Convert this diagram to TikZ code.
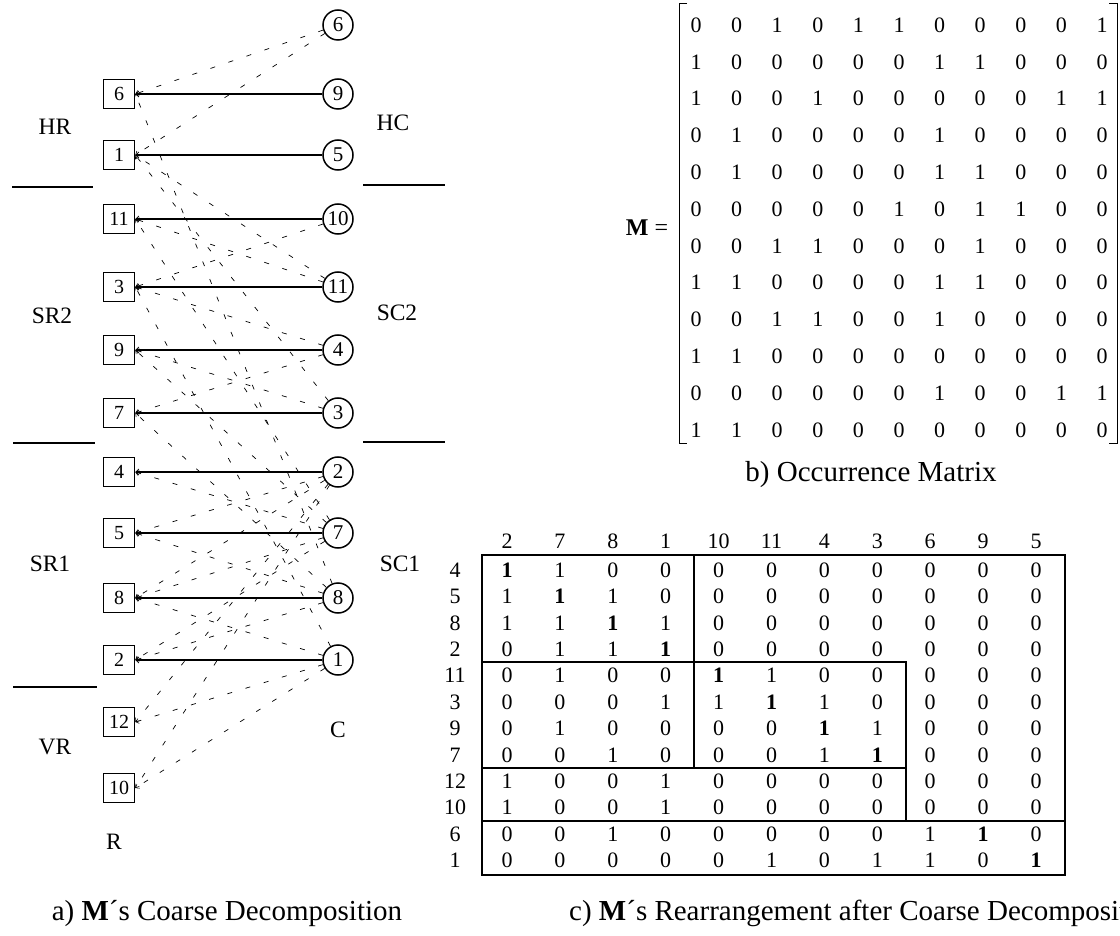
\documentclass[tikz,border=0pt]{standalone}
\usepackage{fontspec}
\setmainfont{Liberation Serif}
\usetikzlibrary{arrows.meta}

\tikzset{
  rowbox/.style={draw, line width=1.6pt, minimum width=31pt, minimum height=29pt,
    inner sep=0pt, font=\fontsize{20}{20}\selectfont},
  colnode/.style={draw, circle, line width=1.5pt, minimum size=30pt, inner sep=0pt,
    font=\fontsize{21}{21}\selectfont},
  matchline/.style={line width=1.8pt,
    -{Straight Barb[length=3pt,width=6pt,line width=0.8pt]}},
  occ/.style={line width=0.7pt, dash pattern=on 5pt off 14pt,
    -{Straight Barb[length=3pt,width=5pt,line width=0.6pt]}},
  lbl/.style={font=\fontsize{23.5}{28}\selectfont, inner sep=0pt},
  sepline/.style={line width=1.6pt},
  entry/.style={font=\fontsize{22}{22}\selectfont, inner sep=0pt},
  captext/.style={font=\fontsize{29}{34}\selectfont, inner sep=0pt},
  brk/.style={line width=1pt},
  blk/.style={line width=1.6pt},
}

\begin{document}
\begin{tikzpicture}[x=1pt,y=-1pt]
\useasboundingbox (0,0) rectangle (1120,936);

% ---------- a) bipartite graph: rows (boxes) and columns (circles)
\foreach \n/\y in {6/94,1/155,11/219,3/287,9/350,7/413,4/472,5/533,8/598,2/660,12/722,10/788}
  \node[rowbox] (r\n) at (119,\y) {\n};
\foreach \n/\y in {6/25,9/94,5/155,10/219,11/287,4/350,3/413,2/472,7/533,8/598,1/660}
  \node[colnode] (c\n) at (338,\y) {\n};

% matching edges
\foreach \r/\c in {6/9,1/5,11/10,3/11,9/4,7/3,4/2,5/7,8/8,2/1}
  \draw[matchline] (c\c) -- (r\r);
% remaining non-zero entries
\foreach \r/\c in {1/3,1/6,1/11,2/7,2/8,3/1,3/4,3/10,4/7,5/2,5/8,6/6,6/8,7/4,7/8,
                   8/1,8/2,8/7,9/3,9/7,10/1,10/2,11/7,11/11,12/1,12/2}
  \draw[occ] (c\c) -- (r\r.east);

% block labels
\node[lbl] (hr)  at (55,127)  {HR};
\node[lbl] (hc)  at (393,123) {HC};
\node[lbl] (sr2) at (52,316)  {SR2};
\node[lbl] (sc2) at (397,313) {SC2};
\node[lbl] (sr1) at (50,564)  {SR1};
\node[lbl] (sc1) at (400,564) {SC1};
\node[lbl] (vr)  at (55,747)  {VR};
\node[lbl] (cc)  at (338,730) {C};
\node[lbl] (rr)  at (114,842) {R};

% separators between blocks
\draw[sepline] (12,187) -- (93,187);
\draw[sepline] (363,185) -- (445,185);
\draw[sepline] (13,443) -- (95,443);
\draw[sepline] (363,442) -- (445,442);
\draw[sepline] (13,687) -- (97,687);

\node[captext] (capa) at (227,913) {a) \textbf{M}´s Coarse Decomposition};

% ---------- b) occurrence matrix
\node[font=\fontsize{24}{24}\selectfont, inner sep=0pt] (mname) at (647,228) {\textbf{M} =};
\draw[brk] (687,4) -- (679,4) -- (679,443) -- (687,443);
\draw[brk] (1109,4) -- (1117,4) -- (1117,443) -- (1109,443);
\foreach \row [count=\i] in {
  {0,0,1,0,1,1,0,0,0,0,1},
  {1,0,0,0,0,0,1,1,0,0,0},
  {1,0,0,1,0,0,0,0,0,1,1},
  {0,1,0,0,0,0,1,0,0,0,0},
  {0,1,0,0,0,0,1,1,0,0,0},
  {0,0,0,0,0,1,0,1,1,0,0},
  {0,0,1,1,0,0,0,1,0,0,0},
  {1,1,0,0,0,0,1,1,0,0,0},
  {0,0,1,1,0,0,1,0,0,0,0},
  {1,1,0,0,0,0,0,0,0,0,0},
  {0,0,0,0,0,0,1,0,0,1,1},
  {1,1,0,0,0,0,0,0,0,0,0}}
  \foreach \v [count=\k] in \row
    \node[entry] (b\i-\k) at ({655.4+40.6*\k},{-11.8+36.8*\i}) {\v};

\node[captext] (capb) at (871,475) {b) Occurrence Matrix};

% ---------- c) rearranged matrix
\foreach \h [count=\k] in {2,7,8,1,10,11,4,3,6,9,5}
  \node[entry] (h\k) at ({454.1+52.9*\k},541) {\h};
\foreach \h [count=\i] in {4,5,8,2,11,3,9,7,12,10,6,1}
  \node[entry] (l\i) at (455,{543.6+26.4*\i}) {\h};
\foreach \row [count=\i] in {
  {B,1,0,0,0,0,0,0,0,0,0},
  {1,B,1,0,0,0,0,0,0,0,0},
  {1,1,B,1,0,0,0,0,0,0,0},
  {0,1,1,B,0,0,0,0,0,0,0},
  {0,1,0,0,B,1,0,0,0,0,0},
  {0,0,0,1,1,B,1,0,0,0,0},
  {0,1,0,0,0,0,B,1,0,0,0},
  {0,0,1,0,0,0,1,B,0,0,0},
  {1,0,0,1,0,0,0,0,0,0,0},
  {1,0,0,1,0,0,0,0,0,0,0},
  {0,0,1,0,0,0,0,0,1,B,0},
  {0,0,0,0,0,1,0,1,1,0,B}}
  \foreach \v [count=\k] in \row
    \node[entry] (e\i-\k) at ({454.1+52.9*\k},{543.6+26.4*\i}) {\if\v B\textbf{1}\else\v\fi};

\draw[blk] (482,555) rectangle (1065,875);
\draw[blk] (694,555) -- (694,768);
\draw[blk] (482,662) -- (906,662) -- (906,821);
\draw[blk] (482,768) -- (906,768);
\draw[line width=1.8pt] (482,821) -- (1065,821);

\node[captext, anchor=west] (capc) at (569,913) {c) \textbf{M}´s Rearrangement after Coarse Decomposition};
\end{tikzpicture}
\end{document}
